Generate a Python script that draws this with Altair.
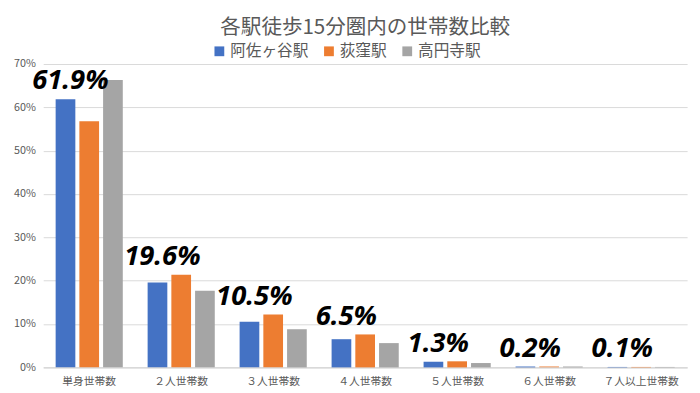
import altair as alt
import pandas as pd

categories = ["単身世帯数", "２人世帯数", "３人世帯数", "４人世帯数", "５人世帯数", "６人世帯数", "７人以上世帯数"]
stations = ["阿佐ヶ谷駅", "荻窪駅", "高円寺駅"]
asagaya = [61.9, 19.6, 10.5, 6.5, 1.3, 0.2, 0.1]
ogikubo = [56.8, 21.4, 12.2, 7.6, 1.4, 0.2, 0.1]
koenji = [66.3, 17.7, 8.8, 5.6, 1.0, 0.2, 0.1]
colors = ["#4472C4", "#ED7D31", "#A5A5A5"]
y_ticks = [0, 10, 20, 30, 40, 50, 60, 70]

rows = []
for s, vals in zip(stations, [asagaya, ogikubo, koenji]):
    for c, v in zip(categories, vals):
        rows.append({"category": c, "station": s, "value": v})
df = pd.DataFrame(rows)

# label for 阿佐ヶ谷駅, placed above the taller of the first two bars
labels = pd.DataFrame({
    "category": categories,
    "station": [stations[0]] * len(categories),
    "value": [max(a, o) for a, o in zip(asagaya, ogikubo)],
    "label": [f"{v}%" for v in asagaya],
})

JP = "Noto Sans CJK JP"
GRAY = "#595959"

x = alt.X("category:N", sort=categories, title=None,
          scale=alt.Scale(paddingInner=0.27, paddingOuter=0.135),
          axis=alt.Axis(labelAngle=0, labelFont=JP, labelFontSize=11, labelColor=GRAY,
                        ticks=False, domainColor="#d0d0d0", labelPadding=9))
xo = alt.XOffset("station:N", sort=stations,
                 scale=alt.Scale(domain=stations, paddingInner=0.17))
y = alt.Y("value:Q", title=None,
          scale=alt.Scale(domain=[0, 70], nice=False),
          axis=alt.Axis(values=y_ticks, labelExpr="datum.value + '%'", labelFont=JP,
                        labelFontSize=11, labelColor=GRAY, domain=False, ticks=False,
                        gridColor="#d9d9d9", labelPadding=8))

bars = alt.Chart(df).mark_bar().encode(
    x=x, xOffset=xo, y=y,
    color=alt.Color("station:N", sort=stations,
                    scale=alt.Scale(domain=stations, range=colors),
                    legend=alt.Legend(title=None, orient="none", direction="horizontal",
                                      legendX=172, legendY=-21, symbolType="square",
                                      symbolSize=100, labelFont=JP, labelFontSize=16,
                                      labelColor=GRAY, columnPadding=12, labelOffset=3,
                                      symbolStrokeWidth=0)),
)

text = alt.Chart(labels).mark_text(
    font="Open Sans", fontSize=28, fontStyle="italic", fontWeight="bold",
    color="black", baseline="bottom", align="center", dy=-4, dx=5,
).encode(x=x, xOffset=xo, y=y, text="label:N")

chart = alt.layer(bars, text).properties(
    width=658, height=310,
    title=alt.TitleParams("各駅徒歩15分圏内の世帯数比較", font=JP, fontSize=21,
                          fontWeight="normal", color=GRAY, anchor="middle",
                          frame="group", offset=6),
).configure_view(stroke=None)

chart.save("out.html", embed_options={"renderer": "svg", "actions": False})
